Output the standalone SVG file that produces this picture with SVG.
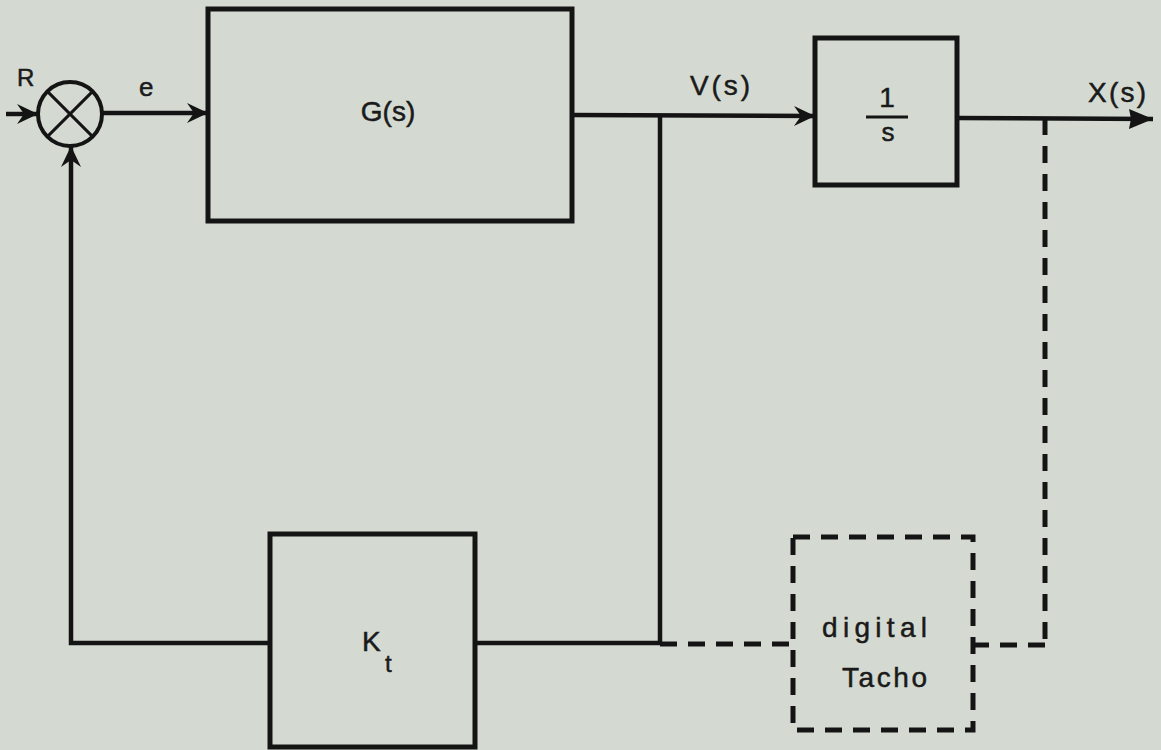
<svg xmlns="http://www.w3.org/2000/svg" width="1161" height="750" viewBox="0 0 1161 750">
<style>
.blk{fill:none;stroke:#141414;stroke-width:5}
.dsh{fill:none;stroke:#141414;stroke-width:5;stroke-dasharray:17 11}
.ln{fill:none;stroke:#141414;stroke-width:4.5}
.t{font-family:"Liberation Sans",Arial,sans-serif;fill:#1a1a1a;stroke:#1a1a1a;stroke-width:0.5}
</style>
<defs>
<marker id="dart" viewBox="-23 -11 25 22" refX="0" refY="0" markerWidth="25" markerHeight="22" markerUnits="userSpaceOnUse" orient="auto">
<path d="M0,0 L-21,-10 L-14,0 L-21,10 Z" fill="#141414"/>
</marker>
<marker id="tri" viewBox="-26 -11 28 22" refX="0" refY="0" markerWidth="28" markerHeight="22" markerUnits="userSpaceOnUse" orient="auto">
<path d="M0,0 L-24,-10 L-22,0 L-24,10 Z" fill="#141414"/>
</marker>
</defs>
<rect width="1161" height="750" fill="#d4dad2"/>
<g id="connectors">
<line class="ln" x1="6" y1="114" x2="38" y2="114" marker-end="url(#dart)"/>
<line class="ln" x1="102" y1="113" x2="208" y2="113" marker-end="url(#dart)"/>
<line class="ln" x1="572" y1="115" x2="815" y2="116" marker-end="url(#dart)"/>
<line class="ln" x1="957" y1="118" x2="1153" y2="119" marker-end="url(#tri)"/>
<line class="ln" x1="660" y1="115" x2="660" y2="643"/>
<line class="ln" x1="475" y1="643" x2="660" y2="643"/>
<polyline class="ln" points="270,643 71,643 71,146" marker-end="url(#dart)"/>
<line class="dsh" x1="660" y1="644" x2="793" y2="644"/>
<line class="dsh" x1="1045" y1="118" x2="1045" y2="645"/>
<line class="dsh" x1="1045" y1="645" x2="973" y2="645"/>
</g>
<g id="sum">
<circle cx="70" cy="114" r="32" fill="none" stroke="#141414" stroke-width="4"/>
<line x1="47.4" y1="91.4" x2="92.6" y2="136.6" stroke="#141414" stroke-width="3"/>
<line x1="92.6" y1="91.4" x2="47.4" y2="136.6" stroke="#141414" stroke-width="3"/>
<text class="t" x="17" y="86" font-size="24">R</text>
<text class="t" x="139" y="96" font-size="26">e</text>
</g>
<g id="G">
<rect class="blk" x="208" y="9" width="364" height="212"/>
<text class="t" x="388" y="121" font-size="28" text-anchor="middle">G(s)</text>
</g>
<g id="integrator">
<rect class="blk" x="815" y="38" width="142" height="147"/>
<text class="t" x="887" y="107" font-size="28" text-anchor="middle">1</text>
<line x1="866" y1="117" x2="908" y2="117" stroke="#141414" stroke-width="3"/>
<text class="t" x="888" y="141" font-size="26" text-anchor="middle">s</text>
</g>
<g id="labels">
<text class="t" x="690" y="95" font-size="28" textLength="60" lengthAdjust="spacing">V(s)</text>
<text class="t" x="1088" y="102" font-size="28" textLength="58" lengthAdjust="spacing">X(s)</text>
</g>
<g id="Kt">
<rect class="blk" x="270" y="534" width="205" height="213"/>
<text class="t" x="362" y="651" font-size="28">K</text>
<text class="t" x="385" y="672" font-size="24">t</text>
</g>
<g id="tacho">
<rect class="dsh" x="793" y="537" width="180" height="193"/>
<text class="t" x="822" y="637" font-size="28" textLength="105" lengthAdjust="spacing">digital</text>
<text class="t" x="842" y="687" font-size="28" textLength="85" lengthAdjust="spacing">Tacho</text>
</g>
</svg>
